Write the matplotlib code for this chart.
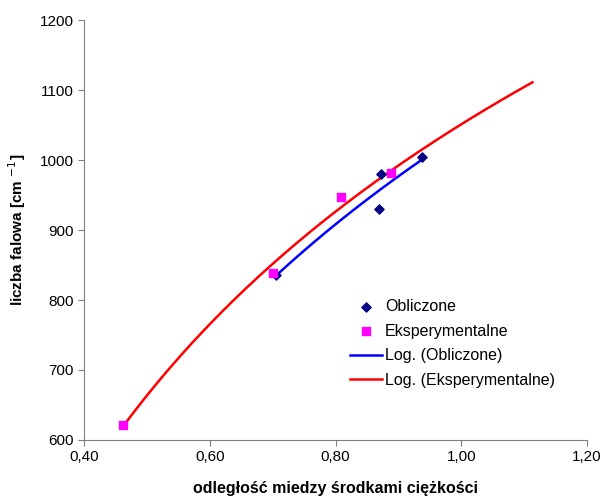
import numpy as np
import matplotlib.pyplot as plt

plt.rcParams['font.family'] = ['Liberation Sans', 'DejaVu Sans']

# odległość / liczba falowa
x_obl = np.array([0.705, 0.869, 0.872, 0.938])
y_obl = np.array([836, 930, 980, 1004])
x_eks = np.array([0.462, 0.700, 0.808, 0.889])
y_eks = np.array([622, 838, 947, 981])
forecast_end = 1.113  # red trendline extended forward


def log_trend(x, y, x_end=None):
    a, b = np.polyfit(np.log(x), y, 1)
    xs = np.linspace(x.min(), x_end if x_end else x.max(), 200)
    return xs, a * np.log(xs) + b


fig = plt.figure(figsize=(6.04, 4.97), dpi=100)
ax = fig.add_axes([0.139, 0.1147, 0.833, 0.845])

xs_o, ys_o = log_trend(x_obl, y_obl)
xs_e, ys_e = log_trend(x_eks, y_eks, forecast_end)

ax.scatter(x_obl, y_obl, marker='D', s=22, color='#000080', zorder=3, label='Obliczone')
ax.scatter(x_eks, y_eks, marker='s', s=30, color='#ff00ff', zorder=3, label='Eksperymentalne')
ax.plot(xs_o, ys_o, color='#0000ff', lw=1.8, zorder=2, label='Log. (Obliczone)')
ax.plot(xs_e, ys_e, color='#ff0000', lw=1.8, zorder=2, label='Log. (Eksperymentalne)')

ax.set_xlim(0.4, 1.2)
ax.set_ylim(600, 1200)
ax.set_xticks(np.arange(0.4, 1.21, 0.2))
ax.set_xticklabels([f'{v:.2f}'.replace('.', ',') for v in np.arange(0.4, 1.21, 0.2)])
ax.set_yticks(range(600, 1201, 100))
ax.tick_params(labelsize=11, direction='out', length=4, color='#808080')
for s in ['top', 'right']:
    ax.spines[s].set_visible(False)
for s in ['left', 'bottom']:
    ax.spines[s].set_color('#808080')

ax.set_ylabel('liczba falowa [cm $^{-1}$]', fontsize=11, fontweight='bold', labelpad=8)
ax.set_xlabel('odległość miedzy środkami ciężkości', fontsize=11.5, fontweight='bold', labelpad=12)

ax.legend(loc='lower right', bbox_to_anchor=(0.965, 0.09), frameon=False, fontsize=11.5,
          handlelength=2.0, labelspacing=0.6, handletextpad=0.2)

fig.savefig('out.png', dpi=100)
